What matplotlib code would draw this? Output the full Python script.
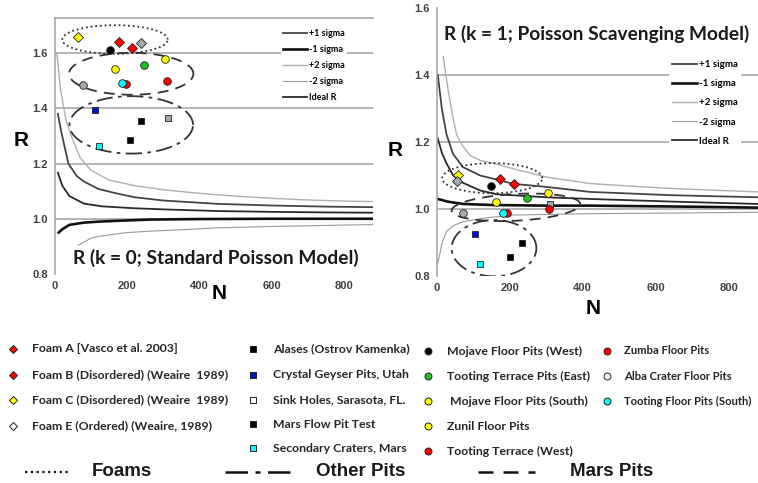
import numpy as np
import matplotlib.pyplot as plt
from matplotlib.lines import Line2D

# ---- data ----
# k = 0 (standard Poisson model) curves
n_p2_k0 = [5, 15, 30, 45, 70, 100, 150, 220, 300, 400, 500, 600, 700, 800, 880]
r_p2_k0 = [1.60, 1.47, 1.36, 1.30, 1.22, 1.175, 1.14, 1.12, 1.105, 1.092, 1.082, 1.074, 1.068, 1.064, 1.062]
n_p1_k0 = [8, 15, 25, 37, 60, 80, 120, 170, 220, 300, 450, 600, 750, 880]
r_p1_k0 = [1.38, 1.33, 1.27, 1.20, 1.155, 1.135, 1.108, 1.092, 1.078, 1.066, 1.054, 1.048, 1.044, 1.042]
n_id_k0 = [8, 20, 40, 80, 130, 220, 300, 450, 600, 750, 880]
r_id_k0 = [1.167, 1.12, 1.082, 1.055, 1.045, 1.038, 1.034, 1.028, 1.025, 1.023, 1.022]
n_m1_k0 = [10, 20, 40, 80, 125, 200, 260, 400, 600, 880]
r_m1_k0 = [0.95, 0.962, 0.978, 0.986, 0.99, 0.994, 0.997, 0.999, 1.0, 1.0]
n_m2_k0 = [64, 100, 125, 200, 263, 350, 447, 600, 750, 880]
r_m2_k0 = [0.904, 0.93, 0.937, 0.95, 0.955, 0.96, 0.967, 0.972, 0.976, 0.979]

# k = 1 (Poisson scavenging model) curves
n_p2_k1 = [18, 25, 32, 45, 55, 70, 91, 120, 164, 210, 301, 420, 550, 648, 760, 880]
r_p2_k1 = [1.455, 1.40, 1.35, 1.27, 1.22, 1.19, 1.16, 1.145, 1.134, 1.12, 1.095, 1.076, 1.067, 1.061, 1.056, 1.051]
n_p1_k1 = [3, 14, 27, 45, 72, 119, 164, 210, 300, 420, 648, 880]
r_p1_k1 = [1.40, 1.30, 1.222, 1.164, 1.125, 1.10, 1.088, 1.075, 1.066, 1.051, 1.041, 1.035]
n_id_k1 = [3, 15, 27, 45, 72, 120, 164, 300, 420, 648, 880]
r_id_k1 = [1.21, 1.165, 1.136, 1.10, 1.078, 1.055, 1.044, 1.035, 1.03, 1.022, 1.015]
n_m1_k1 = [3, 30, 72, 150, 301, 420, 600, 767, 880]
r_m1_k1 = [1.03, 1.022, 1.015, 1.012, 1.01, 1.01, 1.008, 1.006, 1.004]
n_m2_k1 = [3, 15, 27, 45, 72, 130, 210, 420, 650, 880]
r_m2_k1 = [0.837, 0.90, 0.933, 0.95, 0.962, 0.973, 0.982, 0.986, 0.988, 0.99]

curve_names = ["+1 sigma", "-1 sigma", "+2 sigma", "-2 sigma", "Ideal R"]
curve_colors = ["#454545", "#111111", "#b0b0b0", "#9a9a9a", "#2a2a2a"]
curve_widths = [1.3, 1.9, 1.0, 0.8, 1.3]

# observed sites
site_names = ["Foam A [Vasco et al. 2003]", "Foam B (Disordered) (Weaire  1989)",
              "Foam C (Disordered) (Weaire  1989)", "Foam E (Ordered) (Weaire, 1989)",
              "Alases (Ostrov Kamenka)", "Crystal Geyser Pits, Utah",
              "Sink Holes, Sarasota, FL.", "Mars Flow Pit Test", "Secondary Craters, Mars",
              "Mojave Floor Pits (West)", "Tooting Terrace Pits (East)",
              " Mojave Floor Pits (South)", "Zunil Floor Pits", "Tooting Terrace (West)",
              "Zumba Floor Pits", "Alba Crater Floor Pits", "Tooting Floor Pits (South)"]
site_markers = ["D"] * 4 + ["s"] * 5 + ["o"] * 8
site_colors = ["red", "red", "yellow", "#a8a8a8",
               "black", "#0010d0", "#a8a8a8", "black", "cyan",
               "black", "#20c020", "yellow", "yellow", "red",
               "red", "#a8a8a8", "cyan"]
legend_colors = ["red", "red", "yellow", "white",
                 "black", "#0010d0", "white", "black", "cyan",
                 "black", "#20c020", "yellow", "yellow", "red",
                 "red", "white", "cyan"]
n_sites_k0 = [177, 214, 63, 238, 237, 111, 312, 207, 122, 153, 247, 304, 166, 310, 196, 78, 186]
r_sites_k0 = [1.641, 1.619, 1.659, 1.636, 1.354, 1.393, 1.365, 1.286, 1.263,
              1.611, 1.556, 1.579, 1.543, 1.498, 1.489, 1.486, 1.490]
n_sites_k1 = [173, 212, 59, 55, 233, 105, 309, 201, 119, 148, 247, 306, 162, 308, 193, 71, 182]
r_sites_k1 = [1.090, 1.075, 1.100, 1.085, 0.900, 0.924, 1.015, 0.856, 0.837,
              1.070, 1.032, 1.049, 1.020, 0.999, 0.989, 0.989, 0.989]

# group outlines: centre N, centre R, half width, half height, tilt
group_styles = {"Foams": (0, (1, 1.6)), "Other Pits": (0, (9, 3, 2, 3)), "Mars Pits": (0, (6, 4))}
groups_k0 = {"Foams": (166, 1.649, 146, 0.052, 0.0),
             "Mars Pits": (211, 1.525, 172, 0.076, 0.0),
             "Other Pits": (211, 1.340, 171, 0.104, 0.0)}
groups_k1 = {"Foams": (152, 1.092, 137, 0.045, 0.0),
             "Mars Pits": (217, 1.005, 176, 0.040, 5.5e-5),
             "Other Pits": (157, 0.883, 116, 0.084, 0.0)}

plt.rcParams['font.family'] = ['Liberation Sans', 'DejaVu Sans']
fig = plt.figure(figsize=(7.58, 4.83), dpi=100)


def panel(ax, curves, sites, groups, grid_vals, ylim, title, title_xy, leg_anchor, leg_fs, leg_sp):
    ax.set_xlim(0, 880)
    ax.set_ylim(*ylim)
    for v in grid_vals:
        ax.axhline(v, color="#a0a0a0", lw=1.1, zorder=0)
    handles = []
    for (n, r), name, c, w in zip(curves, curve_names, curve_colors, curve_widths):
        h, = ax.plot(n, r, color=c, lw=w, label=name, zorder=2)
        handles.append(h)
    t = np.linspace(0, 2 * np.pi, 200)
    for key, (cx, cy, a, b, k) in groups.items():
        x = cx + a * np.cos(t)
        y = cy + b * np.sin(t) + k * (x - cx)
        ax.plot(x, y, color="#333333", lw=1.3, ls=group_styles[key], zorder=3)
    ns, rs = sites
    for i in range(len(ns)):
        ax.plot(ns[i], rs[i], marker=site_markers[i], ms=5.5 if site_markers[i] == "o" else 5,
                mfc=site_colors[i], mec="#202020", mew=0.6, ls="none", zorder=4)
    leg = ax.legend(handles=handles, loc="upper left", bbox_to_anchor=leg_anchor,
                    labelspacing=leg_sp, handlelength=2.6, handletextpad=0.2,
                    borderpad=0.3, frameon=True, fancybox=False, framealpha=1,
                    prop={'family': 'Lato', 'weight': 'bold', 'size': leg_fs})
    leg.get_frame().set_edgecolor("none")
    leg.set_zorder(5)
    ax.text(title_xy[0], title_xy[1], title, transform=ax.transAxes, ha="center", va="center",
            fontsize=13.8, fontweight="bold", family="Lato", color="#1a1a1a", zorder=6)
    for s in ["right", "bottom", "top"]:
        ax.spines[s].set_visible(False)
    ax.spines["left"].set_color("#a0a0a0")
    ax.spines["left"].set_linewidth(1.1)
    ax.set_xticks([0, 200, 400, 600, 800])
    ax.tick_params(length=0, labelsize=8, labelcolor="#404040", pad=5)
    for lab in ax.get_xticklabels() + ax.get_yticklabels():
        lab.set_fontweight("bold")


ax1 = fig.add_axes([55 / 758, 1 - 274 / 483, 318 / 758, 256 / 483])
panel(ax1,
      [(n_p1_k0, r_p1_k0), (n_m1_k0, r_m1_k0), (n_p2_k0, r_p2_k0), (n_m2_k0, r_m2_k0), (n_id_k0, r_id_k0)],
      (n_sites_k0, r_sites_k0), groups_k0, [1.0, 1.2, 1.4, 1.6], (0.8, 1.727),
      "R (k = 0; Standard Poisson Model)", (0.505, 0.062), (0.695, 0.985), 6.5, 0.78)
ax1.set_yticks([0.8, 1.0, 1.2, 1.4, 1.6])
ax1.spines["top"].set_visible(True)
ax1.spines["top"].set_color("#a0a0a0")
ax1.spines["top"].set_linewidth(1.1)
ax1.set_ylabel("R", rotation=0, fontsize=15, fontweight="bold", va="center", ha="center")
ax1.yaxis.set_label_coords(-0.107, 0.52)
ax1.set_xlabel("N", fontsize=15, fontweight="bold", va="center")
ax1.xaxis.set_label_coords(0.515, -0.075)

ax2 = fig.add_axes([436.7 / 758, 1 - 276 / 483, 321.3 / 758, 268 / 483])
panel(ax2,
      [(n_p1_k1, r_p1_k1), (n_m1_k1, r_m1_k1), (n_p2_k1, r_p2_k1), (n_m2_k1, r_m2_k1), (n_id_k1, r_id_k1)],
      (n_sites_k1, r_sites_k1), groups_k1, [1.0, 1.2, 1.4], (0.8, 1.6),
      "R (k = 1; Poisson Scavenging Model)", (0.499, 0.903), (0.708, 0.835), 7, 1.05)
ax2.set_yticks([0.8, 1.0, 1.2, 1.4, 1.6])
ax2.set_ylabel("R", rotation=0, fontsize=15, fontweight="bold", va="center", ha="center")
ax2.yaxis.set_label_coords(-0.13, 0.47)
ax2.set_xlabel("N", fontsize=15, fontweight="bold", va="center")
ax2.xaxis.set_label_coords(0.486, -0.123)

# ---- legend of sites and outlines below the panels ----
lg = fig.add_axes([0, 0, 1, 1])
lg.set_xlim(0, 758)
lg.set_ylim(483, 0)
lg.axis("off")
col_x = [(13, 32), (253, 273), (428, 447), (607, 624)]
col_fs = [8.8, 8.8, 8.8, 8.1]
col_rows = [[349, 375, 400, 426], [349, 375, 400, 424, 448],
            [351, 376, 401, 426, 451], [351, 376, 401]]
idx = 0
for (mx, tx), fs, rows in zip(col_x, col_fs, col_rows):
    for y in rows:
        m = site_markers[idx]
        lg.plot(mx, y, marker=m, ms=5 if m == "o" else 4.5, mfc=legend_colors[idx],
                mec="#202020", mew=0.7, ls="none", clip_on=False)
        lg.text(tx, y, site_names[idx], ha="left", va="center", fontsize=fs,
                family="Lato", fontweight="bold", color="#262626")
        idx += 1

line_keys = ["Foams", "Other Pits", "Mars Pits"]
line_x = [(25, 70, 92), (225, 297, 316), (478, 535, 570)]
for key, (x0, x1, tx) in zip(line_keys, line_x):
    lg.add_line(Line2D([x0, x1], [472, 472], color="#111111",
                       lw=1.8 if key != "Foams" else 1.6, ls=group_styles[key]))
    lg.text(tx, 472, key, ha="left", va="center", fontsize=13.5, fontweight="bold", color="#1a1a1a")

fig.savefig("out.png", dpi=100)
